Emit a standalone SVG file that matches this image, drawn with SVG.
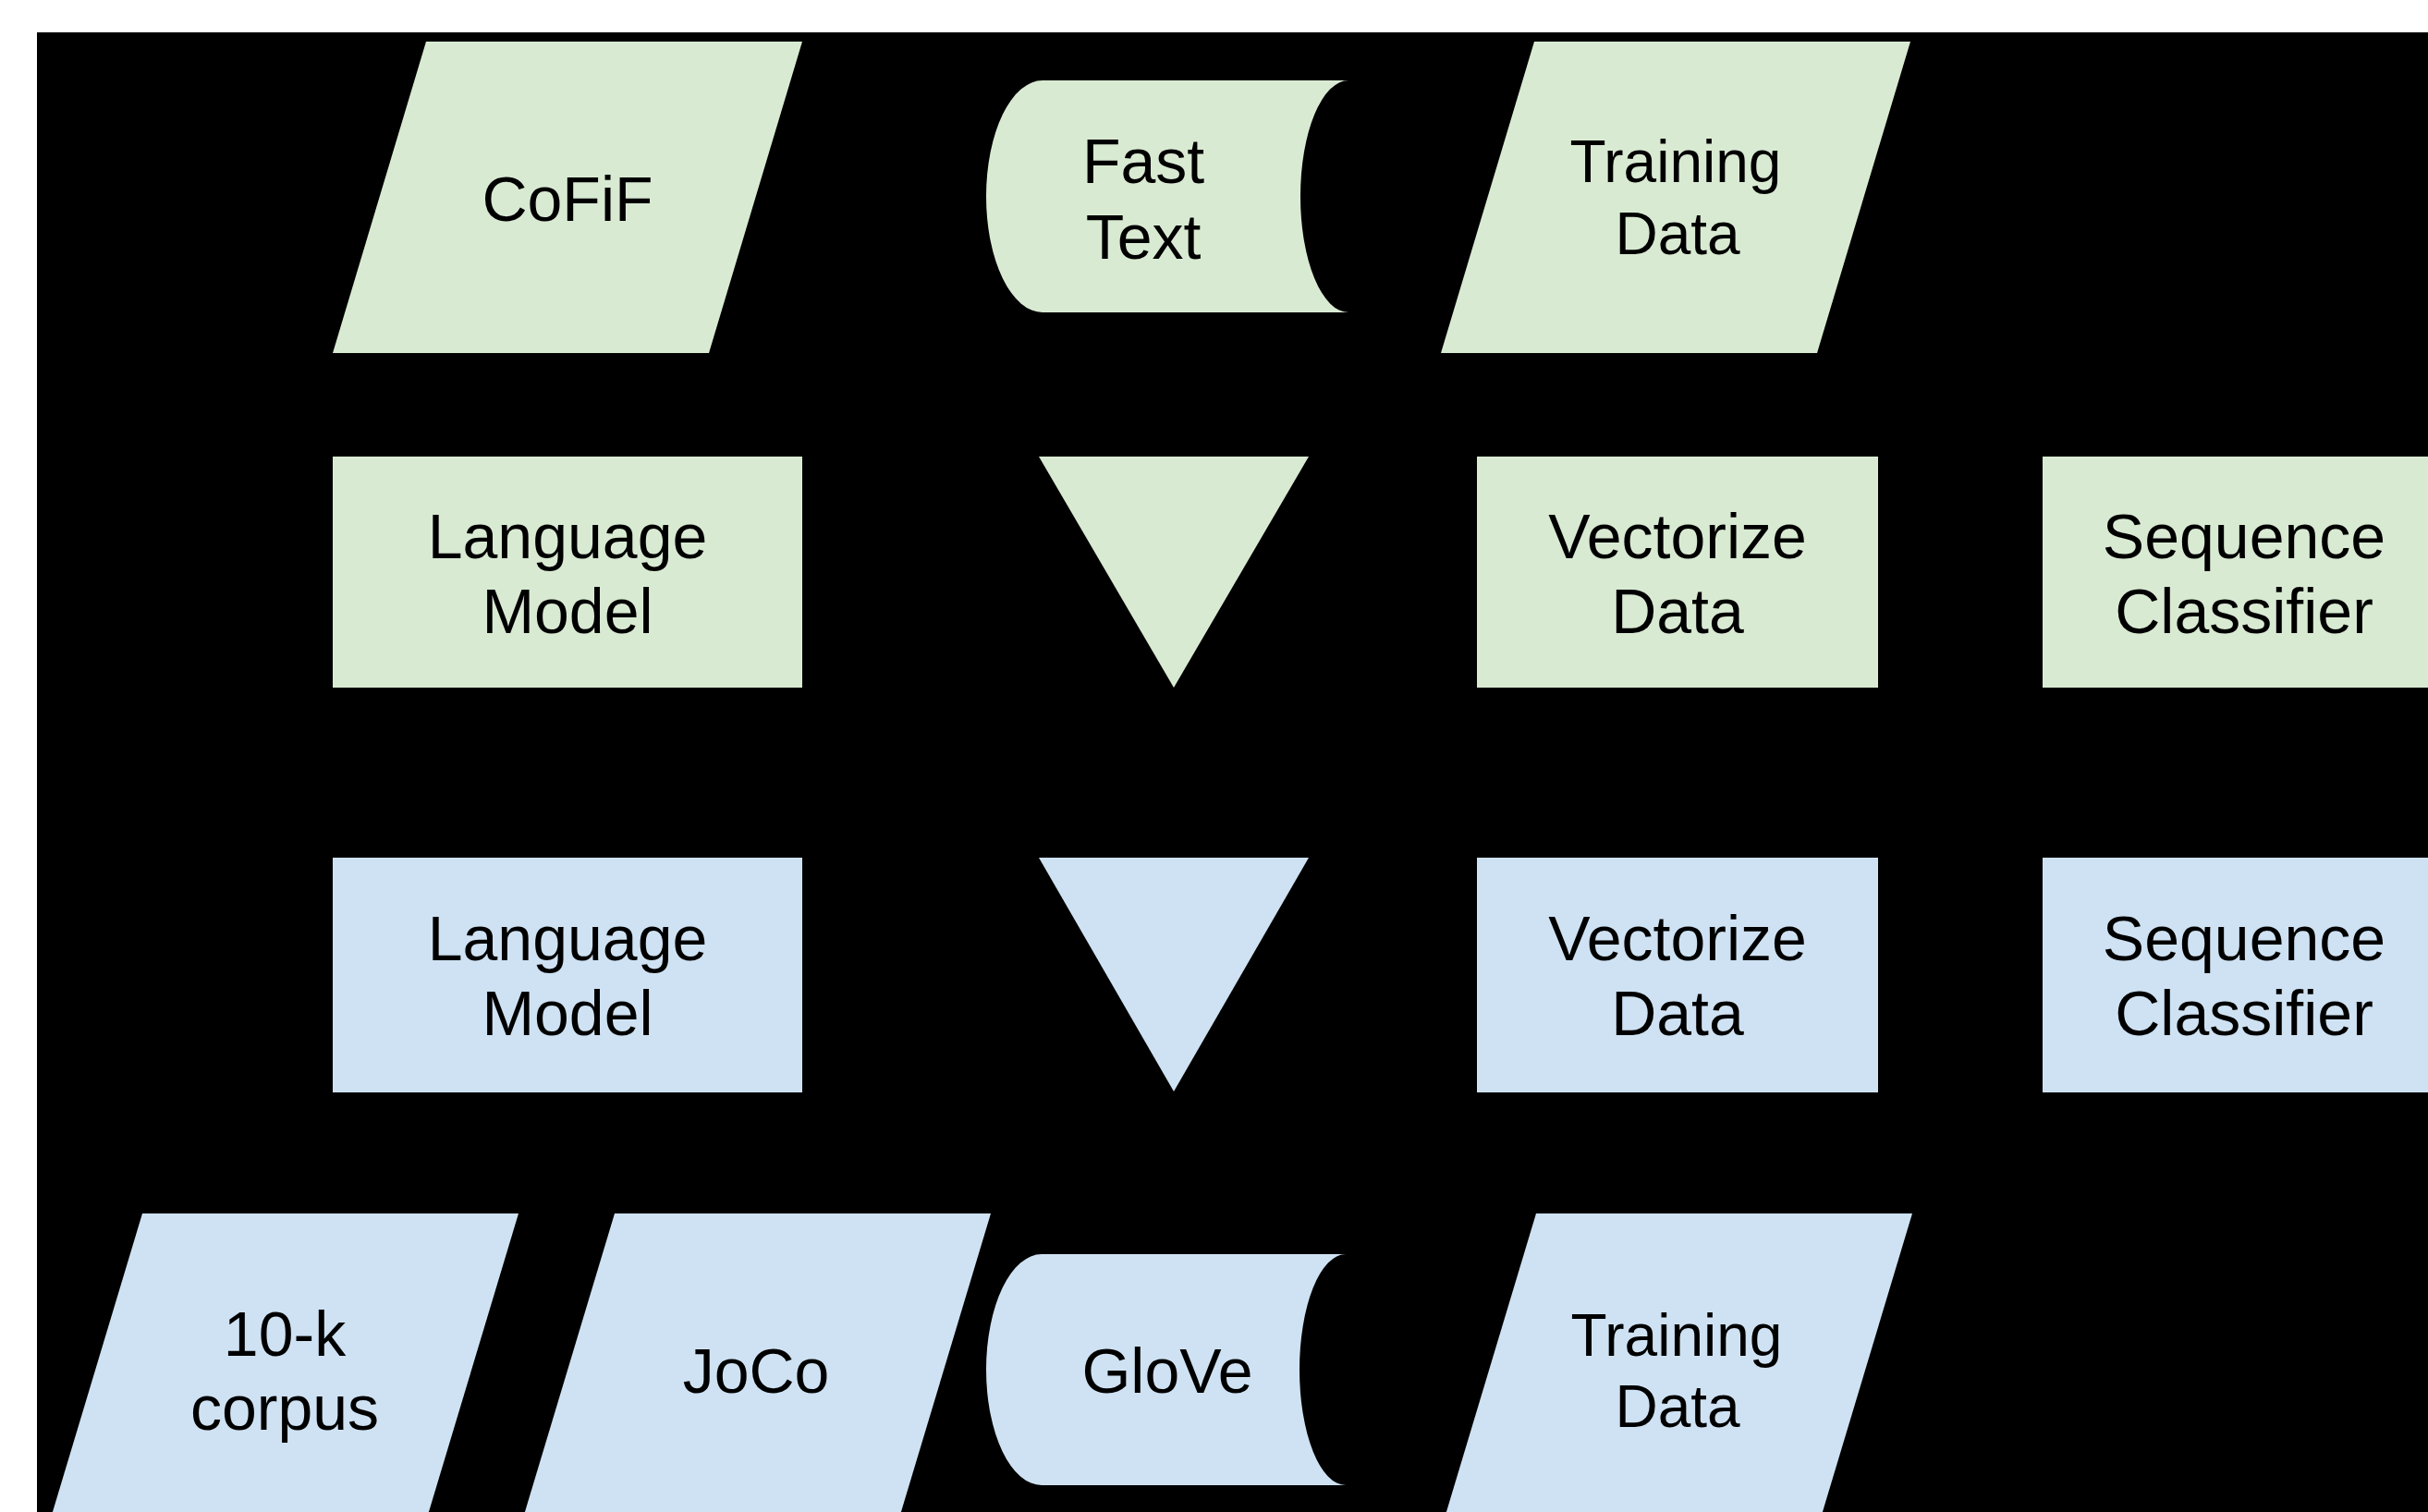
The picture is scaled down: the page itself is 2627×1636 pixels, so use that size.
<svg xmlns="http://www.w3.org/2000/svg" width="2627" height="1636" viewBox="0 0 2627 1636">
  <style>
    .green { fill: #d9ead3; }
    .blue { fill: #cfe2f3; }
    text { font-family: "Liberation Sans", Arial, sans-serif; font-size: 68px; fill: #000; text-anchor: middle; }
    text.small { font-size: 64px; }
  </style>
  <!-- page and dark canvas -->
  <rect x="0" y="0" width="2627" height="1636" fill="#ffffff"/>
  <rect x="40" y="35" width="2587" height="1601" fill="#000000"/>

  <g id="connectors"/>

  <!-- row 1: green inputs -->
  <g id="cofif">
    <polygon class="green" points="461,45 868,45 767,382 360,382"/>
    <text x="614" y="239">CoFiF</text>
  </g>
  <g id="fasttext">
    <path class="green" d="M1128,87 H1459 A52,125.5 0 0 0 1459,338 H1128 A61,125.5 0 0 1 1128,87 Z"/>
    <text x="1237" y="198">Fast</text>
    <text x="1237" y="280">Text</text>
  </g>
  <g id="training-green">
    <polygon class="green" points="1660,45 2067,45 1966,382 1559,382"/>
    <text class="small" x="1813" y="197">Training</text>
    <text class="small" x="1815" y="275">Data</text>
  </g>

  <!-- row 2: green processing -->
  <g id="lm-green">
    <rect class="green" x="360" y="494" width="508" height="250"/>
    <text x="614" y="604">Language</text>
    <text x="614" y="685">Model</text>
  </g>
  <g id="merge-green">
    <polygon class="green" points="1124,494 1416,494 1270,744"/>
  </g>
  <g id="vectorize-green">
    <rect class="green" x="1598" y="494" width="434" height="250"/>
    <text x="1815" y="604">Vectorize</text>
    <text x="1815" y="685">Data</text>
  </g>
  <g id="classifier-green">
    <rect class="green" x="2210" y="494" width="436" height="250"/>
    <text x="2428" y="604">Sequence</text>
    <text x="2428" y="685">Classifier</text>
  </g>

  <!-- row 3: blue processing -->
  <g id="lm-blue">
    <rect class="blue" x="360" y="928" width="508" height="254"/>
    <text x="614" y="1039">Language</text>
    <text x="614" y="1120">Model</text>
  </g>
  <g id="merge-blue">
    <polygon class="blue" points="1124,928 1416,928 1270,1181"/>
  </g>
  <g id="vectorize-blue">
    <rect class="blue" x="1598" y="928" width="434" height="254"/>
    <text x="1815" y="1039">Vectorize</text>
    <text x="1815" y="1120">Data</text>
  </g>
  <g id="classifier-blue">
    <rect class="blue" x="2210" y="928" width="436" height="254"/>
    <text x="2428" y="1039">Sequence</text>
    <text x="2428" y="1120">Classifier</text>
  </g>

  <!-- row 4: blue inputs -->
  <g id="corpus10k">
    <polygon class="blue" points="154,1313 561,1313 460,1649 53,1649"/>
    <text x="308" y="1467">10-k</text>
    <text x="308" y="1547">corpus</text>
  </g>
  <g id="joco">
    <polygon class="blue" points="665,1313 1072,1313 971,1649 564,1649"/>
    <text x="818" y="1507">JoCo</text>
  </g>
  <g id="glove">
    <path class="blue" d="M1127,1357 H1456 A50,125 0 0 0 1456,1607 H1127 A60,125 0 0 1 1127,1357 Z"/>
    <text x="1263" y="1507">GloVe</text>
  </g>
  <g id="training-blue">
    <polygon class="blue" points="1662,1313 2069,1313 1968,1649 1561,1649"/>
    <text class="small" x="1814" y="1467">Training</text>
    <text class="small" x="1815" y="1544">Data</text>
  </g>
</svg>
